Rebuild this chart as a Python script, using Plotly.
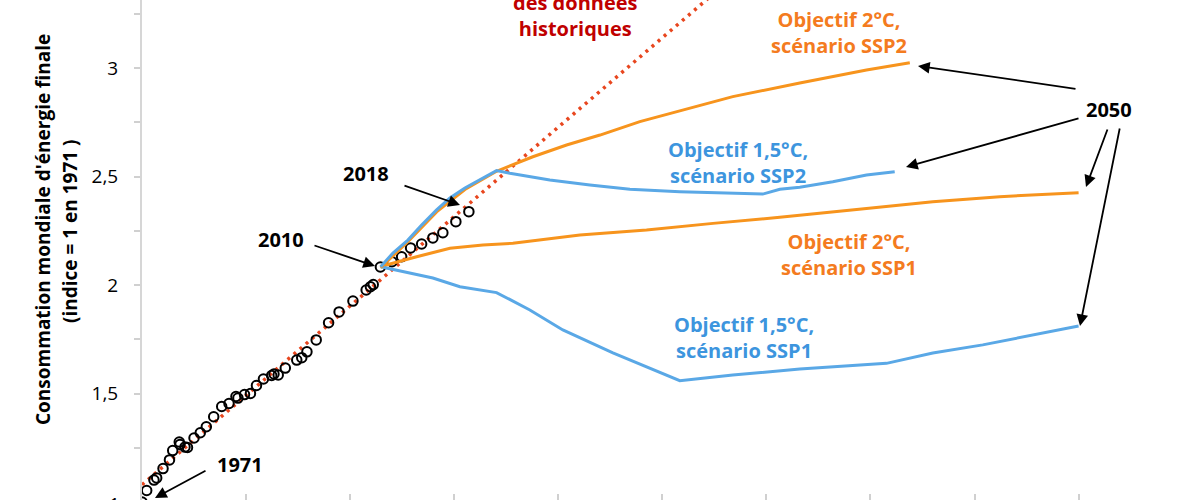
import numpy as np
import plotly.graph_objects as go

# ---------------- data (x: PIB mondial, indice = 1 en 1971 ; y: énergie finale, indice = 1 en 1971)
hist_x = [1.000, 1.045, 1.115, 1.141, 1.202, 1.264, 1.295, 1.358, 1.365, 1.413, 1.437, 1.500,
          1.560, 1.618, 1.689, 1.766, 1.836, 1.903, 1.922, 1.985, 2.042, 2.100, 2.167, 2.246,
          2.268, 2.309, 2.377, 2.487, 2.535, 2.585, 2.674, 2.793, 2.894, 3.027, 3.154, 3.195,
          3.222, 3.291, 3.402, 3.495, 3.581, 3.687, 3.795, 3.891, 4.016, 4.141]
hist_y = [1.000, 1.053, 1.101, 1.111, 1.154, 1.194, 1.237, 1.276, 1.265, 1.253, 1.251, 1.295,
          1.319, 1.347, 1.393, 1.440, 1.454, 1.486, 1.479, 1.495, 1.500, 1.537, 1.567, 1.583,
          1.590, 1.585, 1.617, 1.654, 1.665, 1.692, 1.747, 1.826, 1.876, 1.926, 1.977, 1.992,
          2.002, 2.083, 2.107, 2.130, 2.171, 2.189, 2.217, 2.241, 2.292, 2.338]

ssp2_15_x = [3.293, 3.411, 3.555, 3.687, 3.831, 3.959, 4.103, 4.247, 4.407, 4.535, 4.919, 5.304,
             5.688, 6.168, 6.648, 6.965, 7.129, 7.321, 7.638, 7.962, 8.233]
ssp2_15_y = [2.084, 2.147, 2.207, 2.276, 2.346, 2.401, 2.447, 2.484, 2.527, 2.515, 2.484, 2.461,
             2.441, 2.430, 2.425, 2.419, 2.441, 2.450, 2.476, 2.507, 2.522]

ssp2_2_x = [3.293, 3.555, 3.831, 4.103, 4.407, 4.756, 5.080, 5.401, 5.784, 6.197, 6.677, 7.321,
            7.638, 7.962, 8.378]
ssp2_2_y = [2.080, 2.200, 2.337, 2.440, 2.524, 2.591, 2.645, 2.691, 2.753, 2.806, 2.868, 2.931,
            2.960, 2.991, 3.024]

ssp1_2_x = [3.293, 3.382, 3.639, 3.959, 4.276, 4.564, 5.208, 5.848, 6.487, 7.129, 7.962, 8.599,
            9.242, 10.0]
ssp1_2_y = [2.084, 2.097, 2.130, 2.169, 2.184, 2.192, 2.230, 2.253, 2.284, 2.312, 2.353, 2.384,
            2.407, 2.425]

ssp1_15_x = [3.293, 3.447, 3.795, 4.055, 4.407, 4.727, 5.044, 5.525, 6.168, 6.677, 7.321, 8.154,
             8.599, 9.079, 9.559, 10.0]
ssp1_15_y = [2.084, 2.069, 2.032, 1.992, 1.965, 1.885, 1.793, 1.687, 1.559, 1.585, 1.613, 1.639,
             1.687, 1.724, 1.770, 1.811]

y_tickvals = [1.25, 1.5, 1.75, 2.0, 2.25, 2.5, 2.75, 3.0, 3.25]
y_ticktext = ["", "1,5", "", "2", "", "2,5", "", "3", ""]
x_tickvals = [1, 2, 3, 4, 5, 6, 7, 8, 9, 10]

# linear extrapolation of the historical data
slope, intercept = np.polyfit(hist_x, hist_y, 1)
trend_x = np.array([1.0, 7.0])
trend_y = intercept + slope * trend_x

# ---------------- style
ORANGE = "#F7941D"
ORANGE_T = "#F47B20"
BLUE = "#5AA8E6"
BLUE_T = "#3D95DE"
RED_DOT = "#E8461E"
DARKRED = "#C00000"
FONT = "Open Sans"

W, H = 1200, 500
L, R = 142, 1089  # plot area px
PW = R - L


def xp(px):
    return (px - L) / PW


def yp(py):
    return (H - py) / H


fig = go.Figure()
fig.add_trace(go.Scatter(x=trend_x, y=trend_y, mode="lines",
                         line=dict(color=RED_DOT, width=3.5, dash="3px,5px"),
                         hoverinfo="skip", showlegend=False))
fig.add_trace(go.Scatter(x=hist_x, y=hist_y, mode="markers",
                         marker=dict(symbol="circle-open", size=9.5, color="black",
                                     line=dict(width=2, color="black")),
                         showlegend=False))
fig.add_trace(go.Scatter(x=ssp1_2_x, y=ssp1_2_y, mode="lines",
                         line=dict(color=ORANGE, width=3), showlegend=False))
fig.add_trace(go.Scatter(x=ssp1_15_x, y=ssp1_15_y, mode="lines",
                         line=dict(color=BLUE, width=3), showlegend=False))
fig.add_trace(go.Scatter(x=ssp2_2_x, y=ssp2_2_y, mode="lines",
                         line=dict(color=ORANGE, width=3), showlegend=False))
fig.add_trace(go.Scatter(x=ssp2_15_x, y=ssp2_15_y, mode="lines",
                         line=dict(color=BLUE, width=3), showlegend=False))

ann = []


def text(t, px, py, color, size=20, angle=0):
    ann.append(dict(text=t, x=xp(px), y=yp(py), xref="paper", yref="paper",
                    xanchor="center", yanchor="middle", showarrow=False, textangle=angle,
                    font=dict(family=FONT, size=size, color=color, weight="bold")))


def arrow(tip, tail):
    ann.append(dict(text="", x=xp(tip[0]), y=yp(tip[1]), xref="paper", yref="paper",
                    ax=tail[0] - tip[0], ay=tail[1] - tip[1], axref="pixel", ayref="pixel",
                    showarrow=True, arrowhead=2, arrowsize=1.3, arrowwidth=1.8,
                    arrowcolor="black", standoff=0))


# axis title
text("Consommation mondiale d'énergie finale", 43, 230, "black", 19, -90)
text("(indice = 1 en 1971 )", 70, 231, "black", 19, -90)
# partly visible "1" tick label at the bottom
ann.append(dict(text="1", x=xp(114), y=yp(504), xref="paper", yref="paper",
                xanchor="center", yanchor="middle", showarrow=False,
                font=dict(family=FONT, size=19, color="black")))

# red extrapolation label
text("des données<br>historiques", 575, 15, DARKRED, 20)

# scenario labels
text("Objectif 2°C,<br>scénario SSP2", 839, 33, ORANGE_T, 20)
text("Objectif 1,5°C,<br>scénario SSP2", 738, 163, BLUE_T, 20)
text("Objectif 2°C,<br>scénario SSP1", 849, 254, ORANGE_T, 20)
text("Objectif 1,5°C,<br>scénario SSP1", 744, 338, BLUE_T, 20)

# year labels + arrows
text("1971", 240, 464, "black", 20)
text("2010", 281, 239, "black", 20)
text("2018", 366, 173, "black", 20)
text("2050", 1109, 110, "black", 20)
arrow((155, 498), (207, 470))
arrow((375, 266), (313, 245))
arrow((460, 205), (403, 185))
arrow((918, 66), (1077, 89))
arrow((906, 167), (1080, 118))
arrow((1086, 187), (1108, 128))
arrow((1080, 326), (1120, 127))

fig.update_layout(
    width=W, height=H,
    margin=dict(l=L, r=W - R, t=0, b=0),
    plot_bgcolor="white", paper_bgcolor="white",
    font=dict(family=FONT, color="black"),
    annotations=ann,
    xaxis=dict(range=[1, 1 + 9.1], tickvals=x_tickvals, showticklabels=False,
               ticks="inside", ticklen=6, tickcolor="#D0D0D0", tickwidth=1.5,
               showgrid=False, zeroline=False, showline=False, fixedrange=True),
    yaxis=dict(range=[1 + 2 / 217, 1 + 502 / 217], tickvals=y_tickvals, ticktext=y_ticktext,
               ticks="outside", ticklen=6, tickcolor="#D0D0D0", tickwidth=1.5,
               showline=True, linecolor="#D6D6D6", linewidth=2,
               showgrid=False, zeroline=False, ticklabelstandoff=12,
               tickfont=dict(family=FONT, size=19, color="black"), fixedrange=True),
)

fig.write_html("out.html", config={"displayModeBar": False},
               post_script="document.body.style.margin='0';document.body.style.overflow='hidden';")
